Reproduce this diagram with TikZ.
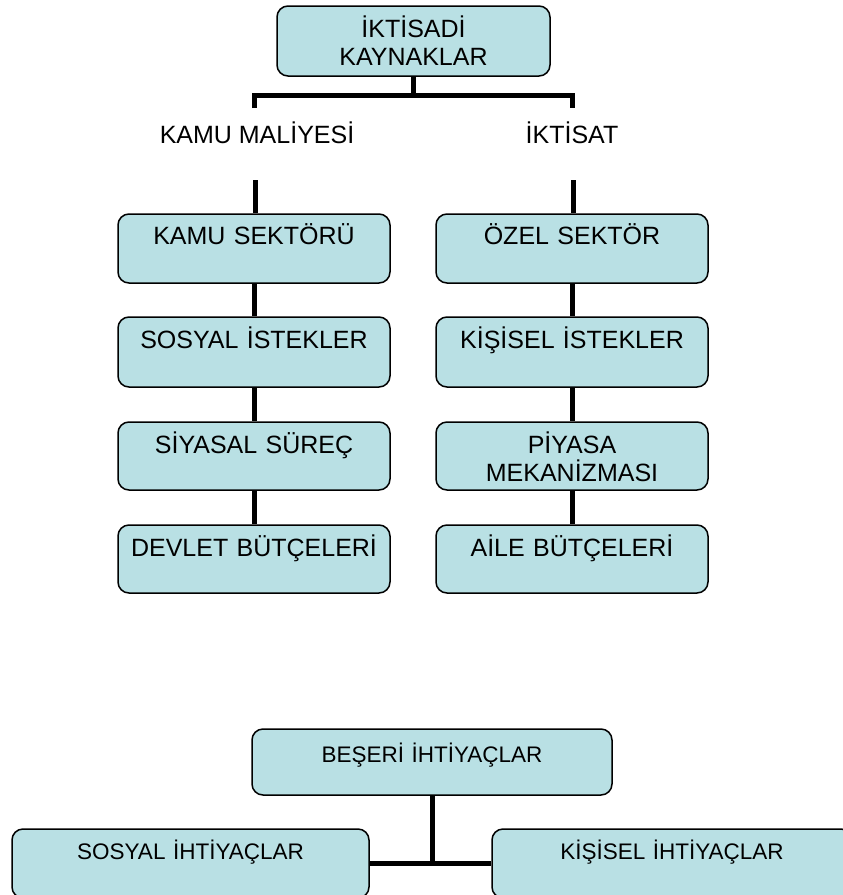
\documentclass[tikz,border=0pt]{standalone}
\usepackage{fontspec}
\setmainfont{Liberation Sans}
\definecolor{boxfill}{RGB}{185,224,228}
\begin{document}
\begin{tikzpicture}[x=1pt,y=-1pt,
  box/.style={draw=black, line width=1.5pt, fill=boxfill, rounded corners=11pt,
    inner sep=0pt, align=center, font=\fontsize{25}{28.5}\selectfont},
  colbox/.style={box, text width=272pt, minimum width=272pt},
  lowbox/.style={box, font=\fontsize{22.5}{26}\selectfont},
  conn/.style={line width=5pt, black},
  lbl/.style={font=\fontsize{25}{28.5}\selectfont, inner sep=0pt}]
\clip (0,0) rectangle (843,895);
\fill[white] (0,0) rectangle (843,895);

% top part
\node[box, text width=273pt, minimum width=273pt, text height=31pt, text depth=39pt] (top) at (413.5,41) {İKTİSADİ\\KAYNAKLAR};

\node[lbl] (kml) at (257,133) {KAMU MALİYESİ};
\node[lbl] (ikt) at (572,133) {İKTİSAT};

\node[colbox, text height=30pt, text depth=39pt] (k1) at (254,248.5) {KAMU SEKTÖRÜ};
\node[colbox, text height=31pt, text depth=39pt] (k2) at (254,352) {SOSYAL İSTEKLER};
\node[colbox, text height=31pt, text depth=37pt] (k3) at (254,456) {SİYASAL SÜREÇ};
\node[colbox, text height=31pt, text depth=37pt] (k4) at (254,559) {DEVLET BÜTÇELERİ};

\node[colbox, text height=30pt, text depth=39pt] (o1) at (572,248.5) {ÖZEL SEKTÖR};
\node[colbox, text height=31pt, text depth=39pt] (o2) at (572,352) {KİŞİSEL İSTEKLER};
\node[colbox, text height=31pt, text depth=37pt] (o3) at (572,456) {PİYASA\\MEKANİZMASI};
\node[colbox, text height=31pt, text depth=37pt] (o4) at (572,559) {AİLE BÜTÇELERİ};

\coordinate (hj) at (413.5,95);
\coordinate (hl) at (254,108);
\coordinate (hr) at (572,108);
\coordinate (sl) at (255,180);
\coordinate (sr) at (573,180);

\draw[conn] (top.south) -- (hj);
\draw[conn] (hl) |- (hj) -| (hr);
\draw[conn] (sl) -- (sl |- k1.north);
\draw[conn] (sr) -- (sr |- o1.north);
\draw[conn] (k1.south) -- (k2.north);
\draw[conn] (k2.south) -- (k3.north);
\draw[conn] (k3.south) -- (k4.north);
\draw[conn] (o1.south) -- (o2.north);
\draw[conn] (o2.south) -- (o3.north);
\draw[conn] (o3.south) -- (o4.north);

% bottom part
\node[lowbox, text width=360pt, minimum width=360pt, text height=33pt, text depth=33pt] (b0) at (432,762) {BEŞERİ İHTİYAÇLAR};
\node[lowbox, text width=357pt, minimum width=357pt, text height=30pt, text depth=39pt] (bl) at (190.5,863.5) {SOSYAL İHTİYAÇLAR};
\node[lowbox, text width=360pt, minimum width=360pt, text height=30pt, text depth=39pt] (br) at (672,863.5) {KİŞİSEL İHTİYAÇLAR};

\draw[conn] (b0.south) -- (b0.south |- bl.east);
\draw[conn] (bl.east) -- (br.west);
\end{tikzpicture}
\end{document}
